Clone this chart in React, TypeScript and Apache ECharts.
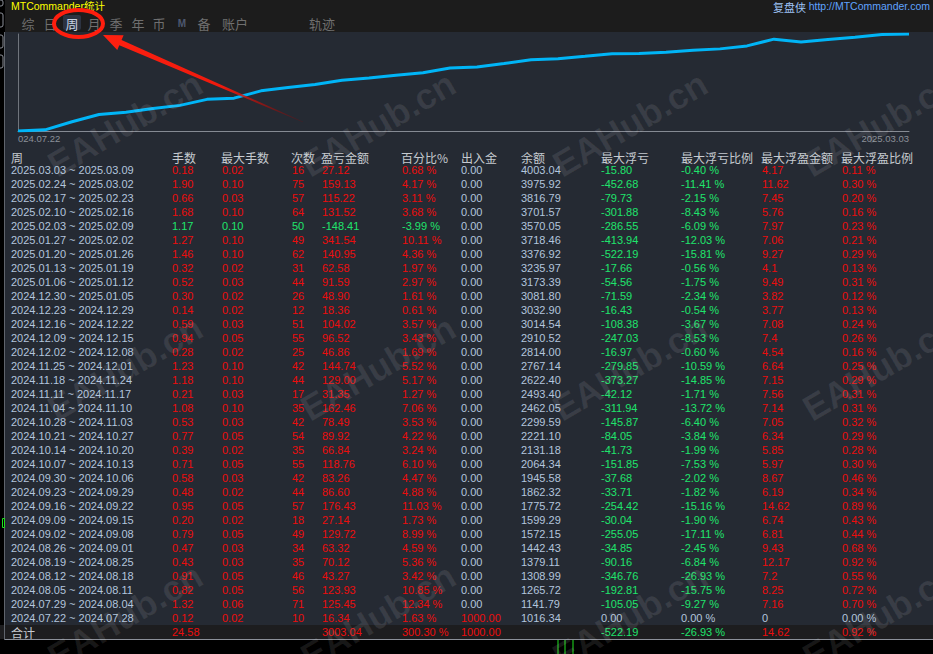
import React, { useEffect, useRef } from "react";
import * as echarts from "echarts";

// ---------- data (newest week first, as in the table) ----------
const weeks = [
  "2025.03.03 ~ 2025.03.09", "2025.02.24 ~ 2025.03.02", "2025.02.17 ~ 2025.02.23",
  "2025.02.10 ~ 2025.02.16", "2025.02.03 ~ 2025.02.09", "2025.01.27 ~ 2025.02.02",
  "2025.01.20 ~ 2025.01.26", "2025.01.13 ~ 2025.01.19", "2025.01.06 ~ 2025.01.12",
  "2024.12.30 ~ 2025.01.05", "2024.12.23 ~ 2024.12.29", "2024.12.16 ~ 2024.12.22",
  "2024.12.09 ~ 2024.12.15", "2024.12.02 ~ 2024.12.08", "2024.11.25 ~ 2024.12.01",
  "2024.11.18 ~ 2024.11.24", "2024.11.11 ~ 2024.11.17", "2024.11.04 ~ 2024.11.10",
  "2024.10.28 ~ 2024.11.03", "2024.10.21 ~ 2024.10.27", "2024.10.14 ~ 2024.10.20",
  "2024.10.07 ~ 2024.10.13", "2024.09.30 ~ 2024.10.06", "2024.09.23 ~ 2024.09.29",
  "2024.09.16 ~ 2024.09.22", "2024.09.09 ~ 2024.09.15", "2024.09.02 ~ 2024.09.08",
  "2024.08.26 ~ 2024.09.01", "2024.08.19 ~ 2024.08.25", "2024.08.12 ~ 2024.08.18",
  "2024.08.05 ~ 2024.08.11", "2024.07.29 ~ 2024.08.04", "2024.07.22 ~ 2024.07.28",
];
const lots = [0.18, 1.90, 0.66, 1.68, 1.17, 1.27, 1.46, 0.32, 0.52, 0.30, 0.14, 0.59, 0.94, 0.28, 1.23, 1.18, 0.21, 1.08, 0.53, 0.77, 0.39, 0.71, 0.58, 0.48, 0.95, 0.20, 0.79, 0.47, 0.43, 0.91, 0.82, 1.32, 0.12];
const maxLots = [0.02, 0.10, 0.03, 0.10, 0.10, 0.10, 0.10, 0.02, 0.03, 0.02, 0.02, 0.03, 0.05, 0.02, 0.10, 0.10, 0.03, 0.10, 0.03, 0.05, 0.02, 0.05, 0.03, 0.02, 0.05, 0.02, 0.05, 0.03, 0.03, 0.05, 0.05, 0.06, 0.02];
const tradeCounts = [16, 75, 57, 64, 50, 49, 62, 31, 44, 26, 12, 51, 55, 25, 42, 44, 17, 35, 42, 54, 35, 55, 42, 44, 57, 18, 49, 34, 35, 46, 56, 71, 10];
const profits = [27.12, 159.13, 115.22, 131.52, -148.41, 341.54, 140.95, 62.58, 91.59, 48.90, 18.36, 104.02, 96.52, 46.86, 144.74, 129.00, 31.35, 162.46, 78.49, 89.92, 66.84, 118.76, 83.26, 86.60, 176.43, 27.14, 129.72, 63.32, 70.12, 43.27, 123.93, 125.45, 16.34];
const percents = [0.68, 4.17, 3.11, 3.68, -3.99, 10.11, 4.36, 1.97, 2.97, 1.61, 0.61, 3.57, 3.43, 1.69, 5.52, 5.17, 1.27, 7.06, 3.53, 4.22, 3.24, 6.10, 4.47, 4.88, 11.03, 1.73, 8.99, 4.59, 5.36, 3.42, 10.85, 12.34, 1.63];
const deposits = [0, 0, 0, 0, 0, 0, 0, 0, 0, 0, 0, 0, 0, 0, 0, 0, 0, 0, 0, 0, 0, 0, 0, 0, 0, 0, 0, 0, 0, 0, 0, 0, 1000];
const balances = [4003.04, 3975.92, 3816.79, 3701.57, 3570.05, 3718.46, 3376.92, 3235.97, 3173.39, 3081.80, 3032.90, 3014.54, 2910.52, 2814.00, 2767.14, 2622.40, 2493.40, 2462.05, 2299.59, 2221.10, 2131.18, 2064.34, 1945.58, 1862.32, 1775.72, 1599.29, 1572.15, 1442.43, 1379.11, 1308.99, 1265.72, 1141.79, 1016.34];
const maxFloatLoss = [-15.80, -452.68, -79.73, -301.88, -286.55, -413.94, -522.19, -17.66, -54.56, -71.59, -16.43, -108.38, -247.03, -16.97, -279.85, -373.27, -42.12, -311.94, -145.87, -84.05, -41.73, -151.85, -37.68, -33.71, -254.42, -30.04, -255.05, -34.85, -90.16, -346.76, -192.81, -105.05, 0];
const maxFloatLossPct = [-0.40, -11.41, -2.15, -8.43, -6.09, -12.03, -15.81, -0.56, -1.75, -2.34, -0.54, -3.67, -8.53, -0.60, -10.59, -14.85, -1.71, -13.72, -6.40, -3.84, -1.99, -7.53, -2.02, -1.82, -15.16, -1.90, -17.11, -2.45, -6.84, -26.93, -15.75, -9.27, 0];
const maxFloatProfit = [4.17, 11.62, 7.45, 5.76, 7.97, 7.06, 9.27, 4.1, 9.49, 3.82, 3.77, 7.08, 7.4, 4.54, 6.64, 7.15, 7.56, 7.14, 7.05, 6.34, 5.85, 5.97, 8.67, 6.19, 14.62, 6.74, 6.81, 9.43, 12.17, 7.2, 8.25, 7.16, 0];
const maxFloatProfitPct = [0.11, 0.30, 0.20, 0.16, 0.23, 0.21, 0.29, 0.13, 0.31, 0.12, 0.13, 0.24, 0.26, 0.16, 0.25, 0.29, 0.31, 0.31, 0.32, 0.29, 0.28, 0.30, 0.46, 0.34, 0.89, 0.43, 0.44, 0.68, 0.92, 0.55, 0.72, 0.70, 0];

// totals row: lots, profit, percent, deposit, float loss, float loss %, float profit, float profit %
const totalLabel = "合计";
const totalValues = [24.58, 3003.04, 300.30, 1000.00, -522.19, -26.93, 14.62, 0.92];

const headers = ["周", "手数", "最大手数", "次数", "盈亏金额", "百分比%", "出入金", "余额", "最大浮亏", "最大浮亏比例", "最大浮盈金额", "最大浮盈比例"];
const tabs = ["综", "日", "周", "月", "季", "年", "币", "M", "备", "账户", "轨迹"];
const activeTab = "周";
const axisEndLabels = ["024.07.22", "2025.03.03"];
const titleText = "MTCommander统计";
const brandText = "复盘侠";
const urlText = "http://MTCommander.com";
const watermarkText = "EAHub.cn";

// ---------- styling ----------
const W = 933;
const H = 654;
const PANEL = "#252a33";
const TOPBAR = "#1c1c1c";
const RED = "#ec0d0d";
const GREEN = "#1fe46c";
const BLUEGRAY = "#b3c5dd";
const HEAD = "#c6cad0";
const FONT = '"Liberation Sans", Arial, "Noto Sans CJK SC", sans-serif';
const CJK = '"Noto Sans CJK SC", "Liberation Sans", sans-serif';

const headerX = [11, 172, 221, 291, 321, 401, 461, 521, 601, 681, 761, 841];
const colX = [11, 172, 222, 292, 322, 402, 461, 521, 601, 681, 762, 842];
const headerY = 157;
const rowY0 = 170;
const rowH = 14;

function txt(x: number, y: number, text: string, fill: string, size: number, family = FONT, extra: any = {}) {
  return {
    type: "text",
    x,
    y,
    z: 10,
    style: {
      text,
      fill,
      fontSize: size,
      fontFamily: family,
      textAlign: extra.align || "left",
      textVerticalAlign: "middle",
      fontWeight: extra.weight || "normal",
    },
  };
}

function buildOption() {
  const n = weeks.length;
  const g: any[] = [];

  // backgrounds
  g.push({ type: "rect", z: 1, shape: { x: 0, y: 0, width: W, height: 32 }, style: { fill: TOPBAR } });
  g.push({ type: "rect", z: 1, shape: { x: 0, y: 0, width: 5, height: H }, style: { fill: "#000" } });
  g.push({ type: "rect", z: 1, shape: { x: 0, y: 625, width: W, height: 14 }, style: { fill: "#1d1d1f" } });
  g.push({ type: "rect", z: 1, shape: { x: 0, y: 640, width: W, height: 14 }, style: { fill: "#000" } });
  g.push({ type: "line", z: 2, shape: { x1: 5, y1: 639.5, x2: W, y2: 639.5 }, style: { stroke: "#8c9099", lineWidth: 1 } });
  g.push({ type: "line", z: 2, shape: { x1: 4.5, y1: 32, x2: 4.5, y2: 640 }, style: { stroke: "#5f646c", lineWidth: 1 } });
  // left strip boxes
  [[0, 6], [13, 14], [35, 13], [55, 13]].forEach(([y, h]) => {
    g.push({ type: "rect", z: 2, shape: { x: -4, y, width: 7, height: h, r: 2 }, style: { fill: "#000", stroke: "#8c9099", lineWidth: 1 } });
  });
  // bottom green markers
  [558, 565, 573].forEach((x) => {
    g.push({ type: "line", z: 2, shape: { x1: x, y1: 640, x2: x, y2: H }, style: { stroke: "#1ee01e", lineWidth: 1 } });
  });
  g.push({ type: "rect", z: 2, shape: { x: 2.5, y: 518.5, width: 2, height: 9 }, style: { fill: "none", stroke: "#1ee01e", lineWidth: 1 } });

  // titles
  g.push(txt(11, 5.5, titleText, "#ffff00", 10.5, FONT));
  g.push(txt(806, 7, brandText, "#9fc3f5", 11, CJK, { align: "right" }));
  g.push(txt(930, 6, urlText, "#5fa3ff", 10.5, FONT, { align: "right" }));

  // tabs
  const tabX = [28, 50, 72, 94, 116, 138, 159, 182, 204, 235, 322];
  tabs.forEach((t, i) => {
    if (t === activeTab) {
      g.push({ type: "rect", z: 5, shape: { x: tabX[i] - 9, y: 15, width: 18, height: 15, r: 2 }, style: { fill: "#2c3341" } });
      g.push(txt(tabX[i], 23, t, "#c9d4e4", 13, CJK, { align: "center" }));
    } else if (t === "M") {
      g.push(txt(tabX[i], 23, t, "#4d5870", 10, FONT, { align: "center", weight: "bold" }));
    } else {
      g.push(txt(tabX[i], 23, t, "#6f6f6f", 13, CJK, { align: "center" }));
    }
  });

  // table header
  headers.forEach((h, i) => g.push(txt(headerX[i], headerY, h, HEAD, 12, CJK)));

  // table rows
  const f2 = (v: number) => v.toFixed(2);
  for (let i = 0; i < n; i++) {
    const y = rowY0 + i * rowH;
    const sign = profits[i] < 0 ? GREEN : RED;
    const zero = maxFloatLoss[i] === 0;
    g.push(txt(colX[0], y, weeks[i], BLUEGRAY, 11));
    g.push(txt(colX[1], y, f2(lots[i]), sign, 11));
    g.push(txt(colX[2], y, f2(maxLots[i]), sign, 11));
    g.push(txt(colX[3], y, String(tradeCounts[i]), sign, 11));
    g.push(txt(colX[4], y, f2(profits[i]), sign, 11));
    g.push(txt(colX[5], y, f2(percents[i]) + " %", sign, 11));
    g.push(txt(colX[6], y, f2(deposits[i]), deposits[i] > 0 ? RED : BLUEGRAY, 11));
    g.push(txt(colX[7], y, f2(balances[i]), BLUEGRAY, 11));
    g.push(txt(colX[8], y, f2(maxFloatLoss[i]), zero ? BLUEGRAY : GREEN, 11));
    g.push(txt(colX[9], y, f2(maxFloatLossPct[i]) + " %", zero ? BLUEGRAY : GREEN, 11));
    g.push(txt(colX[10], y, String(maxFloatProfit[i]), maxFloatProfit[i] === 0 ? BLUEGRAY : RED, 11));
    g.push(txt(colX[11], y, f2(maxFloatProfitPct[i]) + " %", maxFloatProfitPct[i] === 0 ? BLUEGRAY : RED, 11));
  }
  // totals
  const ty = 632;
  g.push(txt(colX[0], ty, totalLabel, HEAD, 12, CJK));
  const [tLots, tProfit, tPct, tDep, tFl, tFlp, tFp, tFpp] = totalValues;
  g.push(txt(colX[1], ty, f2(tLots), RED, 11));
  g.push(txt(colX[4], ty, f2(tProfit), RED, 11));
  g.push(txt(colX[5], ty, f2(tPct) + " %", RED, 11));
  g.push(txt(colX[6], ty, f2(tDep), RED, 11));
  g.push(txt(colX[8], ty, f2(tFl), GREEN, 11));
  g.push(txt(colX[9], ty, f2(tFlp) + " %", GREEN, 11));
  g.push(txt(colX[10], ty, String(tFp), RED, 11));
  g.push(txt(colX[11], ty, f2(tFpp) + " %", RED, 11));

  // watermarks
  const wmX = [125, 378, 630, 880];
  const wmY = [124, 368, 616];
  wmY.forEach((y) =>
    wmX.forEach((x) => {
      g.push({
        type: "text",
        x,
        y,
        z: 50,
        rotation: 0.53,
        silent: true,
        style: {
          text: watermarkText,
          fill: "rgba(255,255,255,0.09)",
          fontSize: 36,
          fontWeight: "bold",
          fontFamily: FONT,
          textAlign: "center",
          textVerticalAlign: "middle",
        },
      });
    })
  );

  // red annotation: ellipse + arrow
  g.push({ type: "ellipse", z: 60, shape: { cx: 78.5, cy: 23.5, rx: 24.5, ry: 13.5 }, style: { fill: "none", stroke: "#ff1e0e", lineWidth: 4 } });
  const T = [103, 35];
  const E = [303, 122];
  const len = Math.hypot(E[0] - T[0], E[1] - T[1]);
  const u = [(E[0] - T[0]) / len, (E[1] - T[1]) / len];
  const nv = [-u[1], u[0]];
  const B = [T[0] + 19 * u[0], T[1] + 19 * u[1]];
  const pt = (p: number[], k: number) => [p[0] + k * nv[0], p[1] + k * nv[1]];
  g.push({
    type: "polygon",
    z: 60,
    shape: { points: [T, pt(B, -8), pt(B, -2.8), pt(E, -0.3), pt(E, 0.3), pt(B, 2.8), pt(B, 8)] },
    style: {
      fill: new echarts.graphic.LinearGradient(T[0], T[1], E[0], E[1], [
        { offset: 0, color: "#ff2010" },
        { offset: 0.6, color: "#ee1a0d" },
        { offset: 1, color: "rgba(140,0,0,0.25)" },
      ], true),
    },
  });

  // equity curve: starting deposit, then the balance at the end of each week (oldest first)
  const chrono = balances.slice().reverse();
  const startBalance = deposits.reduce((a, b) => a + b, 0);
  const curve = [startBalance, ...chrono];
  const cats = [...weeks.slice().reverse().map((w) => w.split(" ~ ")[0]), "end"];

  return {
    animation: false,
    backgroundColor: PANEL,
    grid: { left: 18, right: 24, top: 34, bottom: 523, containLabel: false },
    xAxis: {
      type: "category",
      data: cats,
      boundaryGap: false,
      axisLine: { lineStyle: { color: "#858a93", width: 1 } },
      axisTick: { show: false },
      splitLine: { show: false },
      axisLabel: {
        interval: 0,
        color: "#8b9099",
        fontSize: 9.5,
        fontFamily: FONT,
        margin: 3,
        alignMinLabel: "left",
        alignMaxLabel: "right",
        formatter: (_v: string, i: number) => (i === 0 ? axisEndLabels[0] : i === cats.length - 1 ? axisEndLabels[1] : ""),
      },
    },
    yAxis: {
      type: "log",
      logBase: 10,
      min: startBalance,
      max: Math.max(...balances),
      axisLine: { show: true, lineStyle: { color: "#6f747c", width: 1 } },
      axisTick: { show: false },
      axisLabel: { show: false },
      splitLine: { show: false },
    },
    series: [
      {
        type: "line",
        data: curve,
        symbol: "none",
        lineStyle: { color: "#00b5f7", width: 3 },
        z: 5,
      },
    ],
    graphic: { elements: g },
  };
}

export default function App() {
  const ref = useRef<HTMLDivElement>(null);
  useEffect(() => {
    if (!ref.current) return;
    const chart = echarts.init(ref.current, null, { renderer: "svg" });
    chart.setOption(buildOption() as any);
    return () => chart.dispose();
  }, []);
  return <div ref={ref} style={{ position: "fixed", left: 0, top: 0, width: W, height: H }} />;
}
